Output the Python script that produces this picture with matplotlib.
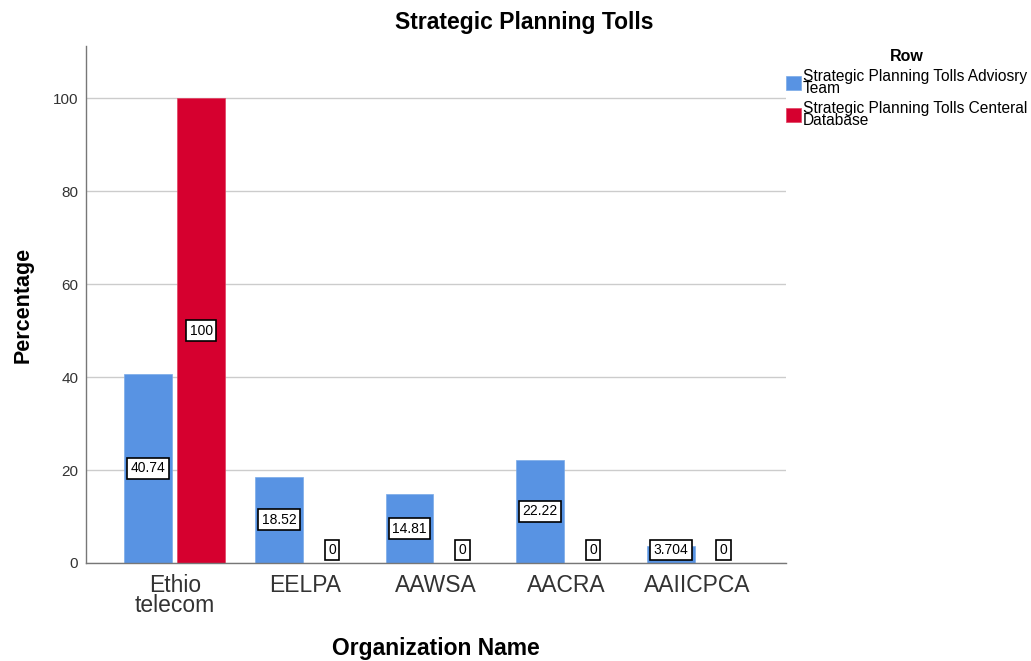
import matplotlib
matplotlib.use("Agg")
import matplotlib.pyplot as plt
import numpy as np

plt.rcParams['font.family'] = ['Liberation Sans', 'DejaVu Sans']

categories = ["Ethio\ntelecom", "EELPA", "AAWSA", "AACRA", "AAIICPCA"]
advisory = [40.74, 18.52, 14.81, 22.22, 3.704]
central = [100, 0, 0, 0, 0]
advisory_labels = ["40.74", "18.52", "14.81", "22.22", "3.704"]
central_labels = ["100", "0", "0", "0", "0"]
series_names = ["Strategic Planning Tolls Adviosry\nTeam",
                "Strategic Planning Tolls Centeral\nDatabase"]
colors = ["#5893e3", "#d6002f"]

fig = plt.figure(figsize=(10.31, 6.61), dpi=100)
ax = fig.add_axes([86/1031, 1-563/661, 700/1031, (563-46)/661])

x = np.arange(len(categories))
w = 0.366
off = 0.203
b1 = ax.bar(x - off, advisory, w, color=colors[0], edgecolor="#7aaae8", linewidth=0.5, label=series_names[0], zorder=3)
b2 = ax.bar(x + off, central, w, color=colors[1], edgecolor="#e04060", linewidth=0.5, label=series_names[1], zorder=3)

ax.set_xlim(-0.68, 4.68)
ax.set_ylim(0, 111.2)
ax.set_yticks([0, 20, 40, 60, 80, 100])
ax.set_xticks(x)
ax.set_xticklabels(categories, fontsize=16.5, color="#333333", linespacing=0.82)
ax.tick_params(axis='y', labelsize=11, colors="#333333", length=0, pad=5.5)
ax.tick_params(axis='x', length=0, pad=8)
ax.grid(axis='y', color="#cccccc", linewidth=1, zorder=0)
for s in ["top", "right"]:
    ax.spines[s].set_visible(False)
for s in ["left", "bottom"]:
    ax.spines[s].set_color("#777777")
    ax.spines[s].set_linewidth(1)
    ax.spines[s].set_zorder(4)

bbox = dict(boxstyle="square,pad=0.25", facecolor="white", edgecolor="black", linewidth=1.2)
for xi, v, lab in zip(x - off, advisory, advisory_labels):
    ax.text(xi, max(v / 2, 2.8), lab, ha="center", va="center", fontsize=10, bbox=bbox, zorder=5)
for xi, v, lab in zip(x + off, central, central_labels):
    ax.text(xi, max(v / 2, 2.8), lab, ha="center", va="center", fontsize=10, bbox=bbox, zorder=5)

fig.text(524/1031, 1-23/661, "Strategic Planning Tolls", fontsize=16.5, fontweight="bold",
         ha="center", va="center")
ax.set_ylabel("Percentage", fontsize=15.5, fontweight="bold", labelpad=14)
fig.text(436/1031, 1-648/661, "Organization Name", fontsize=16.5, fontweight="bold",
         ha="center", va="center")

leg = fig.legend(handles=[b1, b2], loc="upper left", bbox_to_anchor=(786/1031, 1-49/661),
                 title="Row", frameon=False, fontsize=11.2, handlelength=0.95, handleheight=0.95,
                 handletextpad=0.15, labelspacing=0.3, borderaxespad=0, borderpad=0)
leg.get_title().set_fontweight("bold")
leg.get_title().set_fontsize(11.5)
for t in leg.get_texts():
    t.set_linespacing(0.78)

fig.savefig("out.png", dpi=100)
